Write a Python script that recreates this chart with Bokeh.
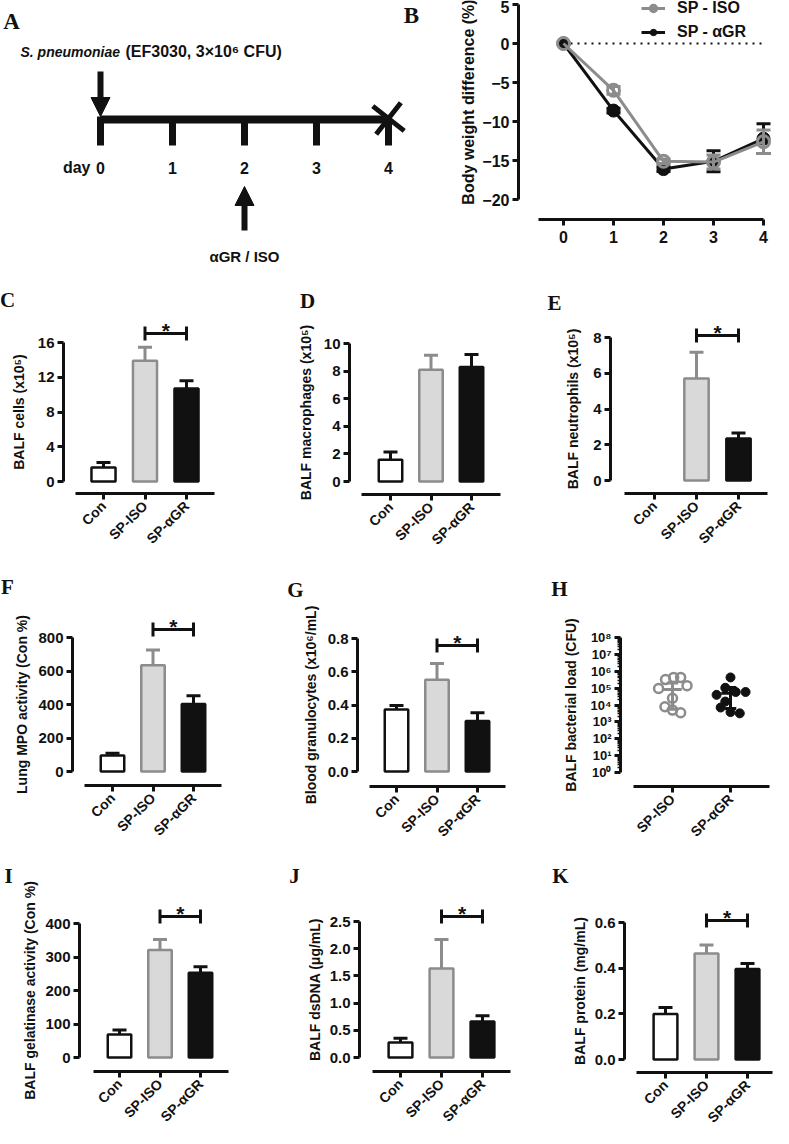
import math
from bokeh.plotting import figure
from bokeh.models import (Range1d, FixedTicker, Label, Arrow, NormalHead, Legend, LegendItem,
                          CustomJSTickFormatter, NumeralTickFormatter)
from bokeh.layouts import column, row
from bokeh.embed import file_html
from bokeh.resources import INLINE
from bokeh.core.properties import value

SANS = "Liberation Sans"
SERIF = "Liberation Serif"
BLACK = "#111111"
GRAY = "#8c8c8c"
LIGHT = "#d9d9d9"

# ---------------- data ----------------
groups = ["Con", "SP-ISO", "SP-αGR"]

days = [0, 1, 2, 3, 4]
bw_iso = [0.0, -6.0, -15.1, -15.2, -12.6]
bw_iso_err = [0.0, 0.5, 0.3, 0.9, 1.5]
bw_agr = [0.0, -8.6, -16.1, -15.1, -12.2]
bw_agr_err = [0.0, 0.3, 0.3, 1.35, 1.9]

balf_cells = [1.6, 13.9, 10.7]
balf_cells_err = [0.6, 1.55, 0.9]
macrophages = [1.58, 8.1, 8.3]
macrophages_err = [0.55, 1.05, 0.9]
neutrophils = [0.0, 5.7, 2.35]
neutrophils_err = [0.0, 1.47, 0.31]
mpo = [95, 635, 403]
mpo_err = [14, 91, 49]
granulocytes = [0.373, 0.552, 0.304]
granulocytes_err = [0.024, 0.097, 0.049]
gelatinase = [69, 321, 253]
gelatinase_err = [13, 31, 18]
dsdna = [0.276, 1.636, 0.662]
dsdna_err = [0.079, 0.534, 0.104]
protein = [0.199, 0.464, 0.396]
protein_err = [0.029, 0.038, 0.024]

cfu_groups = ["SP-ISO", "SP-αGR"]
cfu_iso = [9.5e4, 3.2e5, 4.3e5, 4.3e5, 1.4e5, 2.5e4, 7.9e3, 5.0e3, 3.5e3]
cfu_iso_jitter = [-0.24, -0.12, 0.02, 0.14, 0.25, 0.0, -0.13, 0.0, 0.14]
cfu_agr = [4.3e5, 1.05e5, 4.0e4, 5.9e4, 5.9e4, 1.6e4, 7.1e3, 3.8e3, 3.2e3]
cfu_agr_jitter = [0.0, -0.09, -0.24, 0.09, 0.26, -0.09, -0.17, 0.0, 0.16]
cfu_iso_stats = [5.6e3, 8.3e4, 2.0e5]   # low, centre, high
cfu_agr_stats = [6.3e3, 5.0e4, 1.1e5]

# ---------------- layout constants (reference pixels) ----------------
COLX = [4, 270, 533]
COLW = [262, 258, 253]
ROWY = {2: 270, 3: 566, 4: 859}
ROWH = {2: 290, 3: 287, 4: 287}

GEOM = {
    "C": dict(yx=67, ytop=348, y0=487, xy=499, xfrom=79, xto=218, c1=107, dx=41.5, br=339, tx=22, L=(11, 305)),
    "D": dict(yx=357, ytop=349, y0=487, xy=500, xfrom=369, xto=508, c1=398, dx=40.5, br=None, tx=313, L=(315, 306)),
    "E": dict(yx=623, ytop=343, y0=486, xy=499, xfrom=637, xto=780, c1=667, dx=42, br=341, tx=585, L=(567, 308)),
    "F": dict(yx=76, ytop=649, y0=783, xy=797, xfrom=88, xto=225, c1=116, dx=40.5, br=641, tx=25, L=(11, 598)),
    "G": dict(yx=365, ytop=650, y0=783, xy=798, xfrom=377, xto=513, c1=404, dx=40.5, br=657, tx=318, L=(303, 601)),
    "H": dict(yx=633, ytop=649, y0=784, xy=798, xfrom=646, xto=782, c1=685, dx=58, br=None, tx=583, L=(572, 600)),
    "I": dict(yx=83, ytop=941, y0=1075, xy=1089, xfrom=97, xto=232, c1=123, dx=40.5, br=934, tx=33, L=(12, 893)),
    "J": dict(yx=367, ytop=939, y0=1075, xy=1089, xfrom=380, xto=518, c1=408, dx=41, br=934, tx=322, L=(302, 893)),
    "K": dict(yx=637, ytop=940, y0=1077, xy=1090, xfrom=649, xto=788, c1=678, dx=41, br=938, tx=592, L=(573, 893)),
}


def style_axis(ax, size="15px"):
    ax.axis_line_width = 3
    ax.axis_line_color = BLACK
    ax.major_tick_line_width = 3
    ax.major_tick_line_color = BLACK
    ax.major_tick_out = 6
    ax.major_tick_in = 0
    ax.minor_tick_line_color = None
    ax.major_label_text_font = SANS
    ax.major_label_text_font_style = "bold"
    ax.major_label_text_font_size = size
    ax.major_label_text_color = BLACK
    ax.major_label_standoff = 3


def new_fig(W, H, xr, yr, **kw):
    p = figure(width=W, height=H, x_range=Range1d(*xr), y_range=Range1d(*yr),
               toolbar_location=None, output_backend="svg",
               min_border_left=0, min_border_right=0, min_border_top=0, min_border_bottom=0, **kw)
    p.grid.visible = False
    p.outline_line_color = None
    p.background_fill_color = "white"
    p.border_fill_color = "white"
    return p


def letter_label(x, y, t, size="21px"):
    return Label(x=x, y=y, text=t, text_font=SERIF, text_font_style="bold", text_font_size=size,
                 text_align="center", text_baseline="middle", text_color=BLACK)


def title_label(x, y, t, size="14px"):
    return Label(x=x, y=y, text=t, angle=math.pi / 2, text_font=SANS, text_font_style="bold",
                 text_font_size=size, text_align="center", text_baseline="middle", text_color=BLACK)


def bar_panel(col, rw, key, ylabel, vals, errs, ymax, ystep, fmt):
    g = GEOM[key]
    W, H = COLW[col], ROWH[rw]
    fx = lambda v: v - COLX[col]
    fy = lambda v: v - ROWY[rw]
    left, right, bottom = fx(g["yx"]), min(fx(g["xto"]), W - 1), fy(g["xy"])
    sx = g["dx"]
    sy = (g["y0"] - g["ytop"]) / ymax
    c1, y0 = fx(g["c1"]), fy(g["y0"])
    DX = lambda px: 1 + (px - c1) / sx
    DY = lambda py: (y0 - py) / sy
    p = new_fig(W, H, (DX(0), DX(W)), (DY(H), DY(0)))
    xa, ya = p.xaxis[0], p.yaxis[0]
    style_axis(xa, "14px")
    style_axis(ya)
    xa.fixed_location = DY(bottom)
    ya.fixed_location = DX(left)
    xs = [i + 1 for i in range(len(groups))]
    xa.ticker = FixedTicker(ticks=xs)
    xa.major_label_overrides = {xs[i]: groups[i] for i in range(len(groups))}
    xa.major_label_orientation = math.pi / 4
    xa.major_label_standoff = 4
    xa.bounds = (DX(fx(g["xfrom"])), DX(right))
    n = int(round(ymax / ystep))
    ya.ticker = FixedTicker(ticks=[round(i * ystep, 4) for i in range(n + 1)])
    ya.formatter = NumeralTickFormatter(format=fmt)
    ya.bounds = (0, ymax)

    fills = ["white", LIGHT, BLACK]
    lines = [BLACK, GRAY, BLACK]
    keep = [i for i in range(len(vals)) if vals[i] > 0]
    kx = [xs[i] for i in keep]
    kt = [vals[i] for i in keep]
    ke = [vals[i] + errs[i] for i in keep]
    kl = [lines[i] for i in keep]
    cap = 7 / sx
    p.segment(x0=kx, y0=kt, x1=kx, y1=ke, line_color=kl, line_width=3)
    p.segment(x0=[v - cap for v in kx], y0=ke, x1=[v + cap for v in kx], y1=ke, line_color=kl, line_width=3)
    p.vbar(x=kx, top=kt, bottom=0, width=0.58, fill_color=[fills[i] for i in keep], line_color=kl,
           line_width=2.5)

    if g["br"] is not None:
        yb = DY(fy(g["br"]))
        h = 7 / sy
        a, b = xs[1], xs[2]
        p.segment(x0=[a, a, b], y0=[yb, yb - h, yb - h], x1=[b, a, b], y1=[yb, yb + h, yb + h],
                  line_color=BLACK, line_width=3)
        p.text(x=[(a + b) / 2], y=[yb + 3 / sy], text=["*"], text_font=value(SANS), text_font_style="bold",
               text_font_size="21px", text_align="center", text_baseline="alphabetic", text_color=BLACK)

    p.add_layout(letter_label(DX(fx(g["L"][0])), DY(fy(g["L"][1])), key))
    p.add_layout(title_label(DX(fx(g["tx"])), ymax / 2, ylabel))
    return p


# ---------------- Panel A (schematic) + letter B ----------------
WA, HA = 430, 264
pxday = 72.0
day0px = 100.0
pA = new_fig(WA, HA, (-day0px / pxday, (WA - day0px) / pxday), (HA + 1, 1),
             x_axis_location=None, y_axis_location=None)
A = lambda px: (px - day0px) / pxday
pA.segment(x0=[days[0]], y0=[120], x1=[days[-1]], y1=[120], line_color=BLACK, line_width=8)
pA.segment(x0=days, y0=[117] * len(days), x1=days, y1=[146] * len(days), line_color=BLACK, line_width=7)
pA.scatter(x=[days[-1]], y=[119], marker="x", size=40, line_width=5, line_color=BLACK, angle=0.12)
pA.text(x=days, y=[168] * len(days), text=[str(d) for d in days], text_font=value(SANS),
        text_font_style="bold", text_font_size="16px", text_align="center", text_baseline="middle",
        text_color=BLACK)
pA.text(x=[days[0]], y=[168], text=["day"], x_offset=-10, text_font=value(SANS),
        text_font_style="bold", text_font_size="16px", text_align="right", text_baseline="middle",
        text_color=BLACK)
pA.text(x=[A(20)], y=[52], text=["S. pneumoniae"], text_font=value(SANS), text_font_style="bold italic",
        text_font_size="14px", text_align="left", text_baseline="middle", text_color=BLACK)
pA.text(x=[A(125)], y=[52], text=["(EF3030, 3×10⁶ CFU)"], text_font=value(SANS), text_font_style="bold",
        text_font_size="16px", text_align="left", text_baseline="middle", text_color=BLACK)
pA.text(x=[days[2]], y=[257], text=["αGR / ISO"], text_font=value(SANS), text_font_style="bold",
        text_font_size="15px", text_align="center", text_baseline="middle", text_color=BLACK)
pA.add_layout(Arrow(end=NormalHead(size=19, fill_color=BLACK, line_color=BLACK, line_width=1),
                    x_start=days[0], y_start=72, x_end=days[0], y_end=117, line_width=6, line_color=BLACK))
pA.add_layout(Arrow(end=NormalHead(size=19, fill_color=BLACK, line_color=BLACK, line_width=1),
                    x_start=days[2], y_start=231, x_end=days[2], y_end=187, line_width=6, line_color=BLACK))
pA.add_layout(letter_label(A(11), 22, "A", "23px"))
pA.add_layout(letter_label(A(411), 16, "B", "23px"))

# ---------------- Panel B (body weight) ----------------
WB, HB = 343, 264
fxB = lambda v: v - 430
fyB = lambda v: v - 1
b_left, b_bottom = fxB(518), fyB(220)
d0B, sxB = fxB(563), 50.0
y0B, syB = fyB(44), 7.8
XB = lambda px: (px - d0B) / sxB
YB = lambda py: (y0B - py) / syB
pB = new_fig(WB, HB, (XB(0), XB(WB)), (YB(HB), YB(0)))
style_axis(pB.xaxis[0], "16px")
style_axis(pB.yaxis[0], "16px")
pB.xaxis[0].fixed_location = YB(b_bottom)
pB.yaxis[0].fixed_location = XB(b_left)
pB.xaxis[0].ticker = FixedTicker(ticks=days)
pB.xaxis[0].bounds = (XB(fxB(538)), days[-1])
pB.xaxis[0].major_label_standoff = 5
pB.yaxis[0].ticker = FixedTicker(ticks=[-20, -15, -10, -5, 0, 5])
pB.yaxis[0].bounds = (-20, 5)
pB.line(x=[days[0], days[-1]], y=[0, 0], line_color=BLACK, line_width=2, line_dash="2 5")


def err_segments(p, xs, ys, es, color, cap):
    ix = [i for i in range(len(xs)) if es[i] > 0]
    x = [xs[i] for i in ix]
    lo = [ys[i] - es[i] for i in ix]
    hi = [ys[i] + es[i] for i in ix]
    p.segment(x0=x, y0=lo, x1=x, y1=hi, line_color=color, line_width=3)
    p.segment(x0=[v - cap for v in x] * 2, y0=lo + hi, x1=[v + cap for v in x] * 2, y1=lo + hi,
              line_color=color, line_width=3)


capB = 7 / sxB
l_agr = pB.line(x=days, y=bw_agr, line_color=BLACK, line_width=3)
err_segments(pB, days, bw_agr, bw_agr_err, BLACK, capB)
s_agr = pB.scatter(x=days, y=bw_agr, size=13, fill_color=BLACK, line_color=BLACK, line_width=1)
err_segments(pB, days, bw_iso, bw_iso_err, GRAY, capB)
l_iso = pB.line(x=days, y=bw_iso, line_color=GRAY, line_width=3)
s_iso = pB.scatter(x=days, y=bw_iso, size=12, fill_color=None, line_color=GRAY, line_width=3)
leg = Legend(items=[LegendItem(label="SP - ISO", renderers=[l_iso, s_iso]),
                    LegendItem(label="SP - αGR", renderers=[l_agr, s_agr])],
             location=(fxB(641), HB - 41), padding=0, margin=0, spacing=6, glyph_width=24, glyph_height=16,
             label_height=16, label_standoff=12, border_line_color=None, background_fill_alpha=0,
             label_text_font=SANS, label_text_font_style="bold", label_text_font_size="16px",
             label_text_color=BLACK)
pB.add_layout(leg)
pB.add_layout(title_label(XB(fxB(468)), -7.5, "Body weight difference (%)", "16px"))

# ---------------- bar panels ----------------
pC = bar_panel(0, 2, "C", "BALF cells (x10⁵)", balf_cells, balf_cells_err, 16, 4, "0")
pD = bar_panel(1, 2, "D", "BALF macrophages (x10⁵)", macrophages, macrophages_err, 10, 2, "0")
pE = bar_panel(2, 2, "E", "BALF neutrophils (x10⁵)", neutrophils, neutrophils_err, 8, 2, "0")
pF = bar_panel(0, 3, "F", "Lung MPO activity (Con %)", mpo, mpo_err, 800, 200, "0")
pG = bar_panel(1, 3, "G", "Blood granulocytes (x10⁶/mL)", granulocytes, granulocytes_err, 0.8, 0.2, "0.0")
pI = bar_panel(0, 4, "I", "BALF gelatinase activity (Con %)", gelatinase, gelatinase_err, 400, 100, "0")
pJ = bar_panel(1, 4, "J", "BALF dsDNA (μg/mL)", dsdna, dsdna_err, 2.5, 0.5, "0.0")
pK = bar_panel(2, 4, "K", "BALF protein (mg/mL)", protein, protein_err, 0.6, 0.2, "0.0")

# ---------------- Panel H (log scatter) ----------------
g = GEOM["H"]
col, rw = 2, 3
W, H = COLW[col], ROWH[rw]
fx = lambda v: v - COLX[col]
fy = lambda v: v - ROWY[rw]
left, right, bottom = fx(g["yx"]), min(fx(g["xto"]), W - 1), fy(g["xy"])
sx = g["dx"]
sdec = (g["y0"] - g["ytop"]) / 8.0
c1, y0 = fx(g["c1"]), fy(g["y0"])
HX = lambda px: 1 + (px - c1) / sx
HY = lambda py: 10 ** ((y0 - py) / sdec)
pH = new_fig(W, H, (HX(0), HX(W)), (HY(H), HY(0)), y_axis_type="log")
style_axis(pH.xaxis[0], "14px")
style_axis(pH.yaxis[0], "13px")
pH.xaxis[0].fixed_location = HY(bottom)
pH.yaxis[0].fixed_location = HX(left)
hx = [1, 2]
pH.xaxis[0].ticker = FixedTicker(ticks=hx)
pH.xaxis[0].major_label_overrides = {hx[i]: cfu_groups[i] for i in range(2)}
pH.xaxis[0].major_label_orientation = math.pi / 4
pH.xaxis[0].major_label_standoff = 4
pH.xaxis[0].bounds = (HX(fx(g["xfrom"])), HX(right))
ya = pH.yaxis[0]
ya.ticker = FixedTicker(ticks=[10 ** k for k in range(9)],
                        minor_ticks=[m * 10 ** k for k in range(8) for m in range(2, 10)])
ya.formatter = CustomJSTickFormatter(code="const s='⁰¹²³⁴⁵⁶⁷⁸⁹'; return '10' + s[Math.round(Math.log10(tick))];")
ya.minor_tick_line_color = BLACK
ya.minor_tick_line_width = 1.5
ya.minor_tick_out = 3
ya.minor_tick_in = 0
ya.bounds = (1, 1e8)
cw, mw = 0.1, 0.16
for xc, st, col_ in ((hx[0], cfu_iso_stats, GRAY), (hx[1], cfu_agr_stats, BLACK)):
    pH.segment(x0=[xc, xc - mw, xc - cw, xc - cw], y0=[st[0], st[1], st[0], st[2]],
               x1=[xc, xc + mw, xc + cw, xc + cw], y1=[st[2], st[1], st[0], st[2]],
               line_color=col_, line_width=3)
pH.scatter(x=[hx[0] + j for j in cfu_iso_jitter], y=cfu_iso, size=9, fill_color=None, line_color=GRAY,
           line_width=2.5)
pH.scatter(x=[hx[1] + j for j in cfu_agr_jitter], y=cfu_agr, size=9, fill_color=BLACK, line_color=BLACK)
pH.add_layout(letter_label(HX(fx(g["L"][0])), HY(fy(g["L"][1])), "H"))
pH.add_layout(title_label(HX(fx(g["tx"])), 10 ** 4, "BALF bacterial load (CFU)"))

layout = column(row(pA, pB, spacing=0), row(pC, pD, pE, spacing=0), row(pF, pG, pH, spacing=0),
                row(pI, pJ, pK, spacing=0), spacing=0)
open("out.html", "w").write(file_html(layout, INLINE))
